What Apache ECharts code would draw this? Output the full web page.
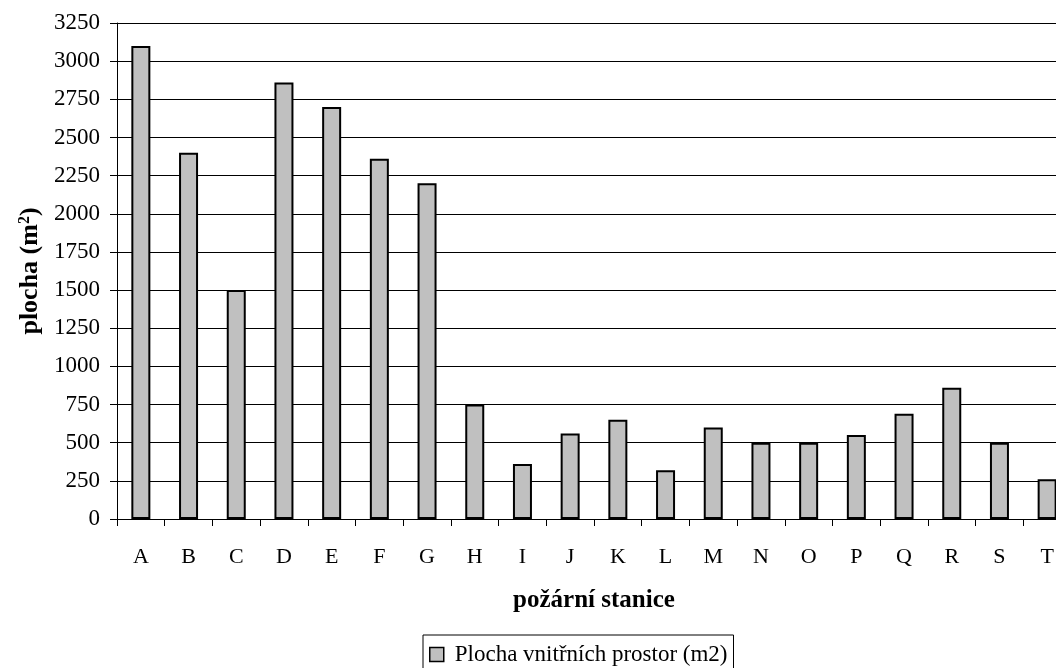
<!DOCTYPE html>
<html>
<head>
<meta charset="utf-8">
<script src="https://cdn.jsdelivr.net/npm/echarts@6/dist/echarts.min.js"></script>
<style>
  html, body { margin: 0; padding: 0; background: #fff; overflow: hidden; }
  #wrap { width: 1056px; height: 668px; overflow: hidden; }
  #chart { width: 1071px; height: 668px; }
</style>
</head>
<body>
<div id="wrap"><div id="chart"></div></div>
<script>
// Fire stations and the floor area of their indoor spaces
const stations = ['A', 'B', 'C', 'D', 'E', 'F', 'G', 'H', 'I', 'J',
                  'K', 'L', 'M', 'N', 'O', 'P', 'Q', 'R', 'S', 'T'];
const indoorArea = [3100, 2400, 1500, 2860, 2700, 2360, 2200, 750, 360, 560,
                    650, 320, 600, 500, 500, 550, 690, 860, 500, 260];
const seriesName = 'Plocha vnitřních prostor (m2)';
const yMax = 3250;
const yStep = 250;

const serif = '"Liberation Serif", "DejaVu Serif", serif';

const chart = echarts.init(document.getElementById('chart'), null, { renderer: 'canvas' });

chart.setOption({
  animation: false,
  backgroundColor: '#ffffff',
  grid: { left: 117, top: 23, width: 954, height: 496, containLabel: false },
  legend: {
    data: [seriesName],
    left: 423,
    top: 635,
    orient: 'horizontal',
    padding: [8, 6, 12, 6],
    itemWidth: 14,
    itemHeight: 14,
    borderColor: '#000',
    borderWidth: 1,
    backgroundColor: '#fff',
    icon: 'rect',
    itemStyle: { borderColor: '#000', borderWidth: 1.5 },
    textStyle: { fontFamily: serif, fontSize: 23, color: '#000', padding: [0, 0, 0, 6] }
  },
  xAxis: {
    type: 'category',
    data: stations,
    boundaryGap: true,
    name: 'požární stanice',
    nameLocation: 'middle',
    nameGap: 69,
    nameTextStyle: { fontFamily: serif, fontSize: 25, fontWeight: 'bold', color: '#000' },
    axisLine: { show: true, lineStyle: { color: '#000', width: 1 } },
    axisTick: { show: true, length: 7, alignWithLabel: false, lineStyle: { color: '#000' } },
    axisLabel: { fontFamily: serif, fontSize: 22, color: '#000', margin: 27, interval: 0 },
    splitLine: { show: false }
  },
  yAxis: {
    type: 'value',
    min: 0,
    max: yMax,
    interval: yStep,
    name: 'plocha (m{sup|2})',
    nameLocation: 'middle',
    nameGap: 62,
    nameRotate: 90,
    nameTextStyle: {
      fontFamily: serif, fontSize: 26, fontWeight: 'bold', color: '#000',
      rich: {
        sup: { fontFamily: serif, fontSize: 16, fontWeight: 'bold', color: '#000', verticalAlign: 'top', padding: [0, 0, 11, 0] }
      }
    },
    axisLine: { show: true, lineStyle: { color: '#000', width: 1 } },
    axisTick: { show: true, length: 7, inside: false, lineStyle: { color: '#000' } },
    axisLabel: { fontFamily: serif, fontSize: 23, color: '#000', margin: 17, formatter: v => String(v) },
    splitLine: { show: true, lineStyle: { color: '#000', width: 1 } }
  },
  series: [{
    name: seriesName,
    type: 'bar',
    data: indoorArea,
    barWidth: 19,
    itemStyle: { color: '#c0c0c0', borderColor: '#000', borderWidth: 2 }
  }]
});
</script>
</body>
</html>
